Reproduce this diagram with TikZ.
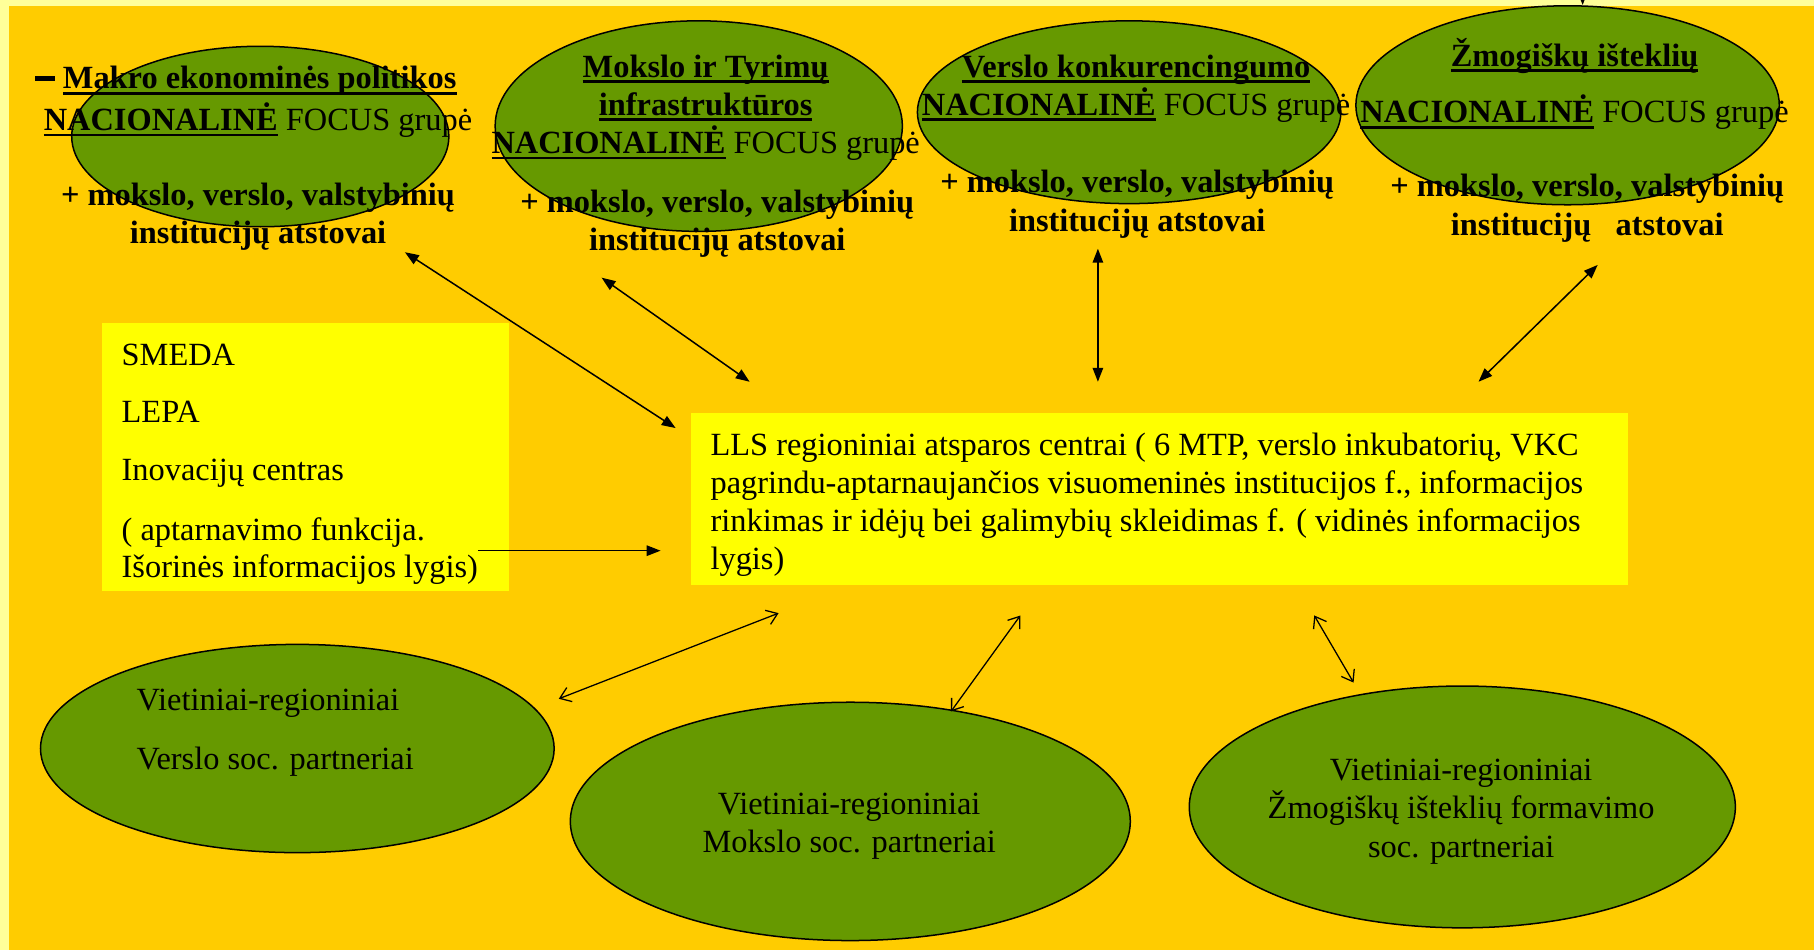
\documentclass[tikz,border=0pt]{standalone}
\usepackage{fontspec}
\setmainfont{Liberation Serif}
\usetikzlibrary{shapes.geometric,arrows.meta}
\definecolor{pale}{HTML}{FFFF99}
\definecolor{bgorange}{HTML}{FFCC00}
\definecolor{leaf}{HTML}{669900}
\definecolor{boxyellow}{HTML}{FFFF00}
\newcommand{\ulbar}[1]{\setbox0\hbox{#1}\rlap{\rule[-5pt]{\wd0}{2.4pt}}\box0\relax}
\newcommand{\bigdash}{\raisebox{7pt}{\rule{17pt}{4pt}}}
\begin{document}
\begin{tikzpicture}[x=1pt,y=-1pt,
  grp/.style={ellipse, draw=black, line width=1.3pt, fill=leaf, inner sep=0pt},
  ybox/.style={fill=boxyellow, draw=none},
  txt/.style={inner sep=0pt, font=\fontsize{28}{33}\selectfont},
  solidarr/.style={line width=1.3pt, {Triangle[length=12pt,width=9pt]}-{Triangle[length=12pt,width=9pt]}},
  onearr/.style={line width=1.3pt, -{Triangle[length=12pt,width=9pt]}},
  openarr/.style={line width=1.1pt, {Straight Barb[length=9pt,width=13pt]}-{Straight Barb[length=9pt,width=13pt]}}
]
\useasboundingbox (0,0) rectangle (1568,821);
\fill[pale] (0,0) rectangle (1568,821);
\fill[bgorange] (8,5) rectangle (1568,821);

% top ellipses
\node[grp, minimum width=326pt, minimum height=156pt] (e1) at (225,118) {};
\node[grp, minimum width=352pt, minimum height=182pt] (e2) at (604,109) {};
\node[grp, minimum width=366pt, minimum height=158pt] (e3) at (976,97) {};
\node[grp, minimum width=366pt, minimum height=172pt] (e4) at (1355,91) {};

% boxes
\node[ybox, minimum width=352pt, minimum height=232pt, inner sep=0pt] (smeda) at (264,395) {};
\node[ybox, minimum width=810pt, minimum height=149pt, inner sep=0pt] (lls) at (1002,431.5) {};

% bottom ellipses
\node[grp, minimum width=444pt, minimum height=180pt] (b1) at (257,647) {};
\node[grp, minimum width=484pt, minimum height=206pt] (b2) at (735,710) {};
\node[grp, minimum width=472pt, minimum height=209pt] (b3) at (1264,697.5) {};

% texts of top groups
\node[txt] (t1a) at (212.5,70) {\bigdash\ \ulbar{\textbf{Makro ekonominės politikos}}};
\node[txt] (t1c) at (223,104) {\ulbar{\textbf{NACIONALINĖ}} FOCUS grupė};
\node[txt, align=center] (t1b) at (223,187) {\textbf{+ mokslo, verslo, valstybinių}\\\textbf{institucijų atstovai}};

\node[txt, align=center] (t2a) at (610,93) {\ulbar{\textbf{Mokslo ir Tyrimų}}\\\ulbar{\textbf{infrastruktūros}}\\\ulbar{\textbf{NACIONALINĖ}} FOCUS grupė};
\node[txt, align=center] (t2b) at (620,193.5) {\textbf{+ mokslo, verslo, valstybinių}\\\textbf{institucijų atstovai}};

\node[txt, align=center] (t3a) at (982,76.5) {\ulbar{\textbf{Verslo konkurencingumo}}\\\ulbar{\textbf{NACIONALINĖ}} FOCUS grupė};
\node[txt, align=center] (t3b) at (983,176.5) {\textbf{+ mokslo, verslo, valstybinių}\\\textbf{institucijų atstovai}};

\node[txt, align=center] (t4a) at (1361,72.5) {\ulbar{\textbf{Žmogiškų išteklių}}\\[16pt]\ulbar{\textbf{NACIONALINĖ}} FOCUS grupė};
\node[txt, align=center] (t4b) at (1372,180) {\textbf{+ mokslo, verslo, valstybinių}\\\textbf{institucijų\ \ \ atstovai}};

% box texts
\node[txt, align=left, anchor=west] (ts) at (105,401) {SMEDA\\[16.5pt]LEPA\\[17pt]Inovacijų centras\\[19pt]( aptarnavimo funkcija.\\[-1pt]Išorinės informacijos lygis)};
\node[txt, align=left, anchor=west] (tl) at (614,436.5) {LLS regioniniai atsparos centrai ( 6 MTP, verslo inkubatorių, VKC\\pagrindu-aptarnaujančios visuomeninės institucijos f., informacijos\\rinkimas ir idėjų bei galimybių skleidimas f. ( vidinės informacijos\\lygis)};

% bottom texts
\node[txt, align=left, anchor=west] (tb1) at (118,633.5) {Vietiniai-regioniniai\\[18pt]Verslo soc. partneriai};
\node[txt, align=center] (tb2) at (734,714) {Vietiniai-regioniniai\\Mokslo soc. partneriai};
\node[txt, align=center] (tb3) at (1263,701.5) {Vietiniai-regioniniai\\Žmogiškų išteklių formavimo\\soc. partneriai};

% arrow end points
\coordinate (a1s) at (350,218);  \coordinate (a1e) at (584,370);
\coordinate (a2s) at (520,240);  \coordinate (a2e) at (648,330);
\coordinate (a3s) at (949,215);  \coordinate (a3e) at (949,330);
\coordinate (a4s) at (1381,229); \coordinate (a4e) at (1278,330);
\coordinate (a5s) at (413,476);  \coordinate (a5e) at (571,476);
\coordinate (c1s) at (673,530);  \coordinate (c1e) at (483,604);
\coordinate (c2s) at (882,532);  \coordinate (c2e) at (822,615);
\coordinate (c3s) at (1136,532); \coordinate (c3e) at (1170,590);
\coordinate (topin) at (1368,-40);

\draw[solidarr] (a1s) -- (a1e);
\draw[solidarr] (a2s) -- (a2e);
\draw[solidarr] (a3s) -- (a3e);
\draw[solidarr] (a4s) -- (a4e);
\draw[onearr] (a5s) -- (a5e);
\draw[openarr] (c1s) -- (c1e);
\draw[openarr] (c2s) -- (c2e);
\draw[openarr] (c3s) -- (c3e);
\draw[onearr] (topin) -- (e4.north -| topin);
\end{tikzpicture}
\end{document}
